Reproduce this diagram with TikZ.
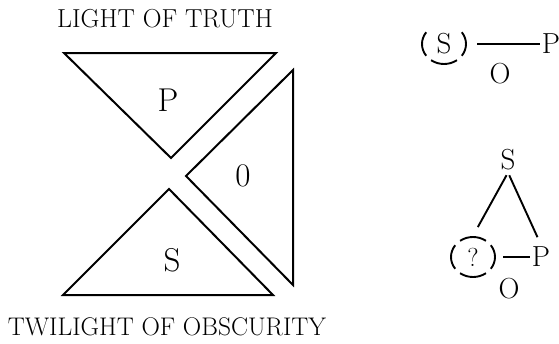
\documentclass[tikz,border=0pt]{standalone}
\usepackage{fontspec}
\usepackage{tikz}
\usetikzlibrary{positioning,calc}
\tikzset{
  edge/.style ={line width=2pt, line join=miter},
  link/.style ={line width=1.9pt},
  tag/.style  ={inner sep=2pt, font=\fontsize{29}{32}\selectfont},
  head/.style ={inner sep=2pt, font=\fontsize{26}{30}\selectfont},
  big/.style  ={inner sep=2pt, font=\fontsize{33}{36}\selectfont},
  ring/.style ={circle, minimum size=42pt, inner sep=0pt, font=\fontsize{29}{32}\selectfont},
}

\begin{document}
\begin{tikzpicture}[x=1pt,y=1pt]
  \useasboundingbox (0,0) rectangle (559,-343);

  % the three triangles and their captions
  \node[head] (light) at (165,-19)  {LIGHT OF TRUTH};
  \node[head, font=\fontsize{25.5}{30}\selectfont] (dusk) at (167,-327) {TWILIGHT OF OBSCURITY};
  \draw[edge] (64,-53) -- (276,-53) -- (171,-158) -- cycle;
  \draw[edge] (293,-70) -- (293,-285) -- (186,-176) -- cycle;
  \draw[edge] (63,-295) -- (273,-295) -- (169,-189) -- cycle;
  \node[big] (ptri) at (168,-100) {P};
  \node[big] (otri) at (243,-176) {0};
  \node[big] (stri) at (172,-260) {S};

  % S in a broken ring, joined to P
  \node[ring] (s1) at (444,-44) {S};
  \node[tag]  (p1) at (551,-44) {P};
  \node[tag]  (o1) at (500,-74) {O};
  \draw[link, shorten <=12pt] (s1) -- (p1);
  \foreach \a in {180,270,0}
    \draw[link] ([shift={(\a-36:22pt and 20pt)}]s1.center)
      arc[start angle=\a-36, end angle=\a+36, x radius=22pt, y radius=20pt];

  % the open term in a ring, with S above
  \node[tag]  (s2) at (508,-160) {S};
  \node[ring, font=\fontsize{26}{28}\selectfont] (c2) at (473,-257) {?};
  \node[tag]  (p2) at (541,-257) {P};
  \node[tag]  (o2) at (509,-289) {O};
  \draw[link, shorten <=3pt, shorten >=10pt]  (s2.south) -- (c2.north);
  \draw[link, shorten <=3pt, shorten >=8.5pt] (s2.south) -- (p2.north);
  \draw[link, shorten <=9pt] (c2) -- (p2);
  \foreach \a in {90,180,270,0}
    \draw[link] ([shift={(\a-36:22pt and 20pt)}]c2.center)
      arc[start angle=\a-36, end angle=\a+36, x radius=22pt, y radius=20pt];
\end{tikzpicture}
\end{document}
